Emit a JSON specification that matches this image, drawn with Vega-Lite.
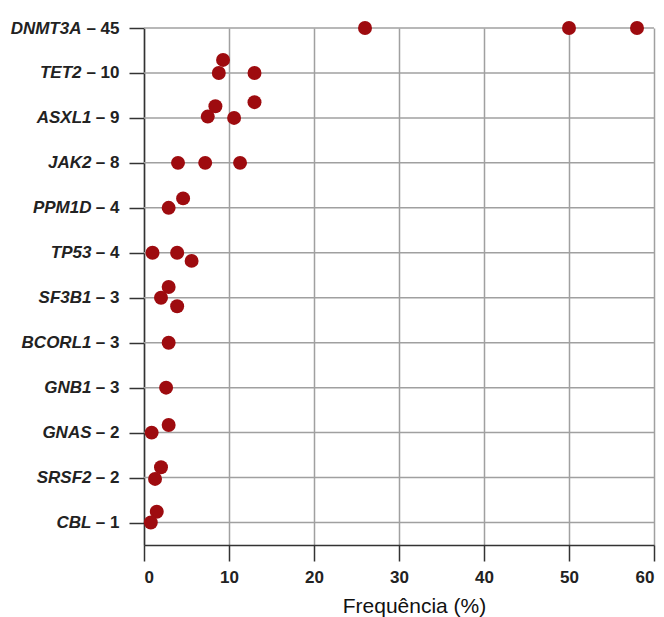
{
  "$schema": "https://vega.github.io/schema/vega-lite/v6.json",
  "width": 510,
  "height": 517,
  "autosize": "none",
  "padding": {"left": 144, "top": 28, "right": 10, "bottom": 72},
  "config": {
    "view": {"stroke": null},
    "font": "Liberation Sans"
  },
  "data": {
    "values": [
      {"label": "DNMT3A \u2013 45", "freq": 26.0, "shift": 0},
      {"label": "DNMT3A \u2013 45", "freq": 50.0, "shift": 0},
      {"label": "DNMT3A \u2013 45", "freq": 58.0, "shift": 0},
      {"label": "TET2 \u2013 10", "freq": 9.3, "shift": 0.29},
      {"label": "TET2 \u2013 10", "freq": 8.8, "shift": 0},
      {"label": "TET2 \u2013 10", "freq": 13.0, "shift": 0},
      {"label": "ASXL1 \u2013 9", "freq": 8.4, "shift": 0.26},
      {"label": "ASXL1 \u2013 9", "freq": 7.5, "shift": 0.03},
      {"label": "ASXL1 \u2013 9", "freq": 10.6, "shift": 0},
      {"label": "ASXL1 \u2013 9", "freq": 13.0, "shift": 0.35},
      {"label": "JAK2 \u2013 8", "freq": 4.0, "shift": 0},
      {"label": "JAK2 \u2013 8", "freq": 7.2, "shift": 0},
      {"label": "JAK2 \u2013 8", "freq": 11.3, "shift": 0},
      {"label": "PPM1D \u2013 4", "freq": 4.6, "shift": 0.21},
      {"label": "PPM1D \u2013 4", "freq": 2.9, "shift": 0},
      {"label": "TP53 \u2013 4", "freq": 1.0, "shift": 0},
      {"label": "TP53 \u2013 4", "freq": 3.9, "shift": 0},
      {"label": "TP53 \u2013 4", "freq": 5.6, "shift": -0.18},
      {"label": "SF3B1 \u2013 3", "freq": 2.9, "shift": 0.24},
      {"label": "SF3B1 \u2013 3", "freq": 2.0, "shift": 0},
      {"label": "SF3B1 \u2013 3", "freq": 3.9, "shift": -0.19},
      {"label": "BCORL1 \u2013 3", "freq": 2.9, "shift": 0},
      {"label": "GNB1 \u2013 3", "freq": 2.6, "shift": 0},
      {"label": "GNAS \u2013 2", "freq": 2.9, "shift": 0.17},
      {"label": "GNAS \u2013 2", "freq": 0.9, "shift": 0},
      {"label": "SRSF2 \u2013 2", "freq": 2.0, "shift": 0.23},
      {"label": "SRSF2 \u2013 2", "freq": 1.3, "shift": -0.03},
      {"label": "CBL \u2013 1", "freq": 1.5, "shift": 0.24},
      {"label": "CBL \u2013 1", "freq": 0.8, "shift": 0}
    ]
  },
  "layer": [
    {
      "transform": [{"aggregate": [{"op": "count", "as": "k"}], "groupby": ["label"]}],
      "mark": {"type": "rule", "color": "#a0a0a0", "strokeWidth": 1.5},
      "encoding": {
        "y": {
          "field": "label",
          "type": "nominal",
          "scale": {
            "type": "point",
            "padding": 0.25,
            "align": 0,
            "domain": ["DNMT3A \u2013 45", "TET2 \u2013 10", "ASXL1 \u2013 9", "JAK2 \u2013 8", "PPM1D \u2013 4", "TP53 \u2013 4", "SF3B1 \u2013 3", "BCORL1 \u2013 3", "GNB1 \u2013 3", "GNAS \u2013 2", "SRSF2 \u2013 2", "CBL \u2013 1"]
          },
          "axis": {
            "orient": "left",
            "title": null,
            "grid": false,
            "domain": true,
            "domainColor": "#333333",
            "domainWidth": 1.5,
            "ticks": true,
            "tickColor": "#333333",
            "tickWidth": 1.5,
            "tickSize": 15,
            "labelPadding": 10,
            "labelFont": "Liberation Sans",
            "labelFontSize": 17,
            "labelFontWeight": "bold",
            "labelColor": "#222222",
            "labelExpr": "'\u2013 ' + split(datum.value, ' \u2013 ')[1]"
          }
        }
      }
    },
    {
      "transform": [{"filter": "length(split(datum.label, ' \u2013 ')[1]) == 1"}],
      "mark": {"type": "circle", "color": "#9e0b0f", "size": 195, "opacity": 1},
      "encoding": {
        "x": {
          "field": "freq",
          "type": "quantitative",
          "title": "Frequência (%)",
          "scale": {"domain": [0, 60], "nice": false},
          "axis": {
            "values": [0, 10, 20, 30, 40, 50, 60],
            "titleFont": "Liberation Sans",
            "titleFontSize": 21,
            "titleFontWeight": "normal",
            "titleColor": "#111111",
            "titlePadding": 10,
            "titleX": 270,
            "grid": true,
            "gridColor": "#a0a0a0",
            "gridWidth": 1.5,
            "domainColor": "#333333",
            "domainWidth": 1.5,
            "tickColor": "#333333",
            "tickWidth": 1.5,
            "tickSize": 16,
            "labelPadding": 8,
            "labelFont": "Liberation Sans",
            "labelFontSize": 17,
            "labelFontWeight": "bold",
            "labelColor": "#222222"
          }
        },
        "y": {
          "field": "label",
          "type": "nominal",
          "axis": {
            "orient": "left",
            "title": null,
            "grid": false,
            "domain": false,
            "ticks": false,
            "labelPadding": 53,
            "labelFont": "Liberation Sans",
            "labelFontSize": 17,
            "labelFontWeight": "bold",
            "labelFontStyle": "italic",
            "labelColor": "#222222",
            "labelExpr": "length(split(datum.value, ' \u2013 ')[1]) == 1 ? split(datum.value, ' \u2013 ')[0] : ''"
          }
        },
        "yOffset": {
          "field": "shift",
          "type": "quantitative",
          "scale": {"domain": [-1, 1], "range": [45, -45]}
        }
      }
    },
    {
      "transform": [{"filter": "length(split(datum.label, ' \u2013 ')[1]) == 2"}],
      "mark": {"type": "circle", "color": "#9e0b0f", "size": 195, "opacity": 1},
      "encoding": {
        "x": {
          "field": "freq",
          "type": "quantitative",
          "title": "Frequência (%)"
        },
        "y": {
          "field": "label",
          "type": "nominal",
          "axis": {
            "orient": "left",
            "title": null,
            "grid": false,
            "domain": false,
            "ticks": false,
            "labelPadding": 63,
            "labelFont": "Liberation Sans",
            "labelFontSize": 17,
            "labelFontWeight": "bold",
            "labelFontStyle": "italic",
            "labelColor": "#222222",
            "labelExpr": "length(split(datum.value, ' \u2013 ')[1]) == 2 ? split(datum.value, ' \u2013 ')[0] : ''"
          }
        },
        "yOffset": {
          "field": "shift",
          "type": "quantitative",
          "scale": {"domain": [-1, 1], "range": [45, -45]}
        }
      }
    }
  ],
  "resolve": {"axis": {"y": "independent"}}
}
